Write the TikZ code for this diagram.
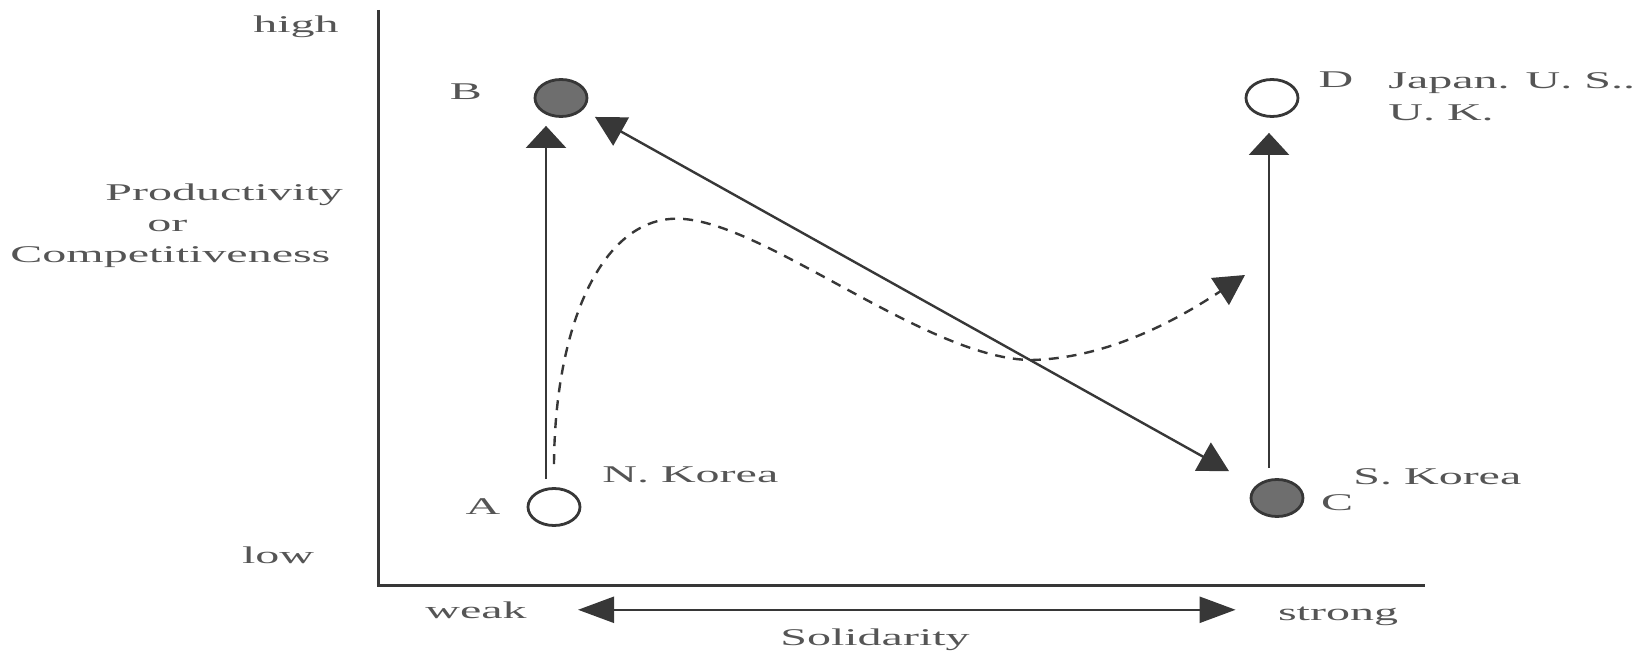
\documentclass[tikz,border=0pt]{standalone}
\usepackage{fontspec}
\setmainfont{Liberation Serif}[FakeStretch=2.0]
\usepackage{tikz}
\usetikzlibrary{arrows.meta, shapes.geometric, calc}
\definecolor{InkGray}{RGB}{55,55,55}
\definecolor{TextGray}{RGB}{85,85,85}
\definecolor{DotFill}{RGB}{110,110,110}

\begin{document}
\begin{tikzpicture}[x=0.5pt, y=-0.5pt, font=\fontsize{12}{14}\selectfont,
    lbl/.style={text=TextGray, inner sep=0pt},
    dot/.style={ellipse, draw=InkGray, line width=1.4pt, minimum width=26pt, minimum height=18.5pt, inner sep=0pt},
    darkdot/.style={dot, fill=DotFill},
    opendot/.style={dot, fill=white},
    line/.style={line width=1.2pt, draw=InkGray},
    rise/.style={line, -{Triangle[length=11pt, width=20pt]}},
    trend/.style={line, {Triangle[length=15pt, width=16pt]}-{Triangle[length=15pt, width=16pt]}},
    drift/.style={line, -{Triangle[length=15pt, width=16pt]}, dash pattern=on 5pt off 4pt},
    scale arrow/.style={line, {Triangle[length=18pt, width=13pt]}-{Triangle[length=18pt, width=13pt]}}]
    \useasboundingbox (0,0) rectangle (1651,652);

    % axes
    \draw[line width=1.5pt, draw=InkGray] (378,10) -- (378,585) -- (1425,585);
    \node[lbl, anchor=base] (high) at (296,33) {high};
    \node[lbl, anchor=base] (low) at (278,563) {low};
    \node[lbl, anchor=north west, align=left, font=\fontsize{12}{15.5}\selectfont] (yname) at (10,183)
        {\hspace*{47.5pt}Productivity\\\hspace*{68.5pt}or\\Competitiveness};

    % the four positions
    \node[opendot] (A) at (554,507) {};
    \node[darkdot] (B) at (561,98) {};
    \node[darkdot] (C) at (1277,498) {};
    \node[opendot] (D) at (1272,98) {};

    \node[lbl, anchor=base] (Alabel) at (483,515) {A};
    \node[lbl, anchor=base] (Blabel) at (466,100) {B};
    \node[lbl, anchor=base] (Clabel) at (1337,510) {C};
    \node[lbl, anchor=base] (Dlabel) at (1336,88) {D};
    \node[lbl, anchor=base west] (nkorea) at (602,482) {N. Korea};
    \node[lbl, anchor=base west] (skorea) at (1353,485) {S. Korea};
    \node[lbl, anchor=north west, align=left, font=\fontsize{12}{16}\selectfont] (west) at (1388,72)
        {Japan. U. S..\\U. K.};

    % moves between positions
    \draw[rise, shorten <=4pt, shorten >=4pt] ([xshift=-4pt]A.north) -- ([xshift=-4pt]A.north |- B.south);
    \draw[rise, shorten <=5pt, shorten >=7.5pt] ([xshift=-4pt]C.north) -- ([xshift=-4pt]C.north |- D.south);
    \draw[trend, shorten <=7pt, shorten >=15pt] (B) -- (C);

    % dashed path out of A
    \coordinate (dashend) at (1245,275);
    \draw[drift] ([yshift=11.5pt]A.north)
        .. controls (555,320) and (605,212) .. (684,219)
        .. controls (770,226) and (930,360) .. (1032,360)
        .. controls (1110,358) and (1180,318) .. (dashend);

    % solidarity scale
    \node[lbl, anchor=base] (weak) at (476,618) {weak};
    \node[lbl, anchor=base] (strong) at (1338,620) {strong};
    \node[lbl, anchor=base] (solid) at (875,645) {Solidarity};
    \draw[scale arrow, shorten <=25.5pt, shorten >=21pt] (weak.east) -- (weak.east -| strong.west);
\end{tikzpicture}
\end{document}
